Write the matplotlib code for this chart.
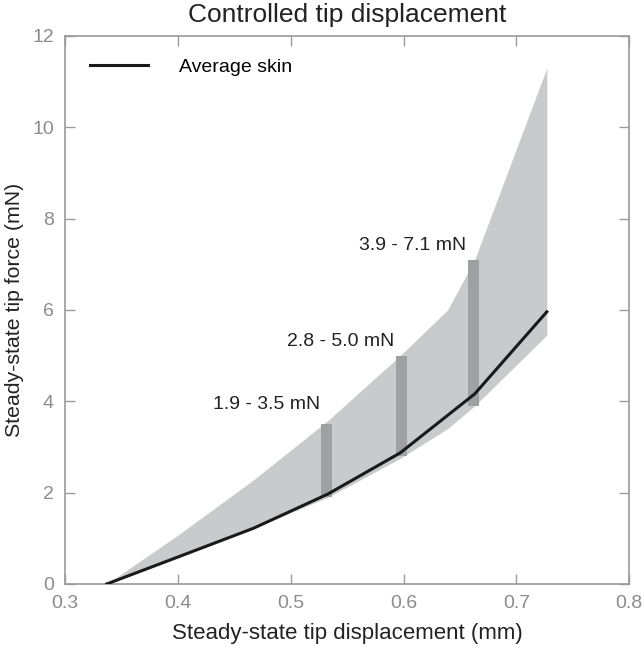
import matplotlib
matplotlib.use("Agg")
import matplotlib.pyplot as plt

plt.rcParams['font.family'] = ['Liberation Sans', 'DejaVu Sans']

# average skin curve
avg_x = [0.337, 0.40, 0.467, 0.533, 0.597, 0.663, 0.727]
avg_y = [0.0, 0.59, 1.22, 1.97, 2.87, 4.16, 5.96]

# band of skin variation (upper / lower)
band_x = [0.337, 0.40, 0.467, 0.533, 0.597, 0.639, 0.663, 0.727]
band_upper = [0.0, 1.07, 2.28, 3.58, 5.0, 6.0, 7.1, 11.3]
band_lower = [0.0, 0.59, 1.22, 1.9, 2.75, 3.4, 3.9, 5.45]

# force ranges at the three displacements
bar_x = [0.532, 0.598, 0.662]
bar_lo = [1.9, 2.8, 3.9]
bar_hi = [3.5, 5.0, 7.1]
bar_labels = ["1.9 - 3.5 mN", "2.8 - 5.0 mN", "3.9 - 7.1 mN"]
label_x = [0.479, 0.544, 0.608]
label_y = [3.92, 5.30, 7.42]

x_ticks = [0.3, 0.4, 0.5, 0.6, 0.7, 0.8]
y_ticks = [0, 2, 4, 6, 8, 10, 12]

spine_col = '#9a9a9a'
tick_col = '#8c8c8c'

fig = plt.figure(figsize=(6.44, 6.53), dpi=100)
ax = fig.add_axes([0.101, 0.1057, 0.876, 0.8392])

ax.fill_between(band_x, band_lower, band_upper, color='#c9cacc', lw=0, zorder=1)
for bx, lo, hi in zip(bar_x, bar_lo, bar_hi):
    ax.bar(bx, hi - lo, bottom=lo, width=0.0095, color='#9fa0a2', lw=0, zorder=2)
ax.plot(avg_x, avg_y, color='#1a1a1a', lw=2.2, zorder=3, label='Average skin')

for lx, ly, txt in zip(label_x, label_y, bar_labels):
    ax.text(lx, ly, txt, ha='center', va='center', fontsize=14, color='#222222')

ax.set_xlim(0.3, 0.8)
ax.set_ylim(0, 12)
ax.set_xticks(x_ticks)
ax.set_yticks(y_ticks)
ax.set_xticklabels([str(v) for v in x_ticks])
ax.tick_params(direction='in', length=7, width=1, color=spine_col,
               labelcolor=tick_col, labelsize=14, top=True, right=True, pad=8)
for s in ax.spines.values():
    s.set_color(spine_col)
    s.set_linewidth(1.2)

ax.set_xlabel('Steady-state tip displacement (mm)', fontsize=16, color='#222222', labelpad=8)
ax.set_ylabel('Steady-state tip force (mN)', fontsize=15.3, color='#222222', labelpad=6)
ax.set_title('Controlled tip displacement', fontsize=19, color='#222222', pad=10)

leg = ax.legend(loc='upper left', frameon=False, fontsize=14, handlelength=2.95,
                handletextpad=1.6, borderaxespad=0.4, bbox_to_anchor=(0.017, 0.988))

fig.savefig('out.png', dpi=100)
